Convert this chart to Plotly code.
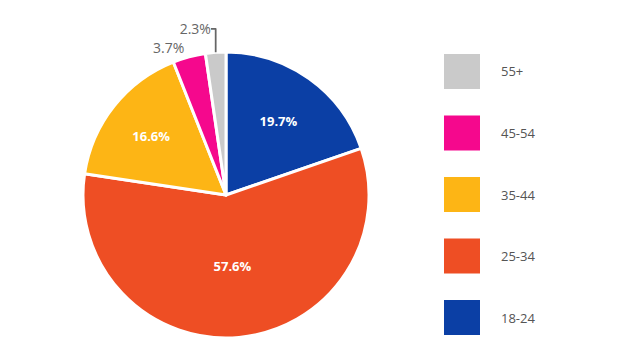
import plotly.graph_objects as go

categories = ["18-24", "25-34", "35-44", "45-54", "55+"]
values = [19.7, 57.6, 16.6, 3.7, 2.3]
colors = ["#0B3FA5", "#EE4E24", "#FDB515", "#F5088D", "#CACACA"]
text_positions = ["inside", "inside", "inside", "outside", "outside"]

fig = go.Figure()
fig.add_trace(go.Pie(
    labels=categories,
    values=values,
    sort=False,
    direction="clockwise",
    rotation=0,
    marker=dict(colors=colors, line=dict(color="white", width=3)),
    texttemplate="%{value:.1f}%",
    textposition=text_positions,
    insidetextorientation="horizontal",
    insidetextfont=dict(color="white", size=13, family="Open Sans", weight="bold"),
    outsidetextfont=dict(color="#666666", size=14, family="Open Sans"),
    hoverinfo="label+value",
    showlegend=False,
    domain=dict(x=[0.1297, 0.5766], y=[0.0611, 0.8556]),
))

# Custom legend (large swatches), reversed order
legend_items = list(zip(categories, colors))[::-1]
y0 = 54
pitch = 61.5
for i, (cat, col) in enumerate(legend_items):
    top = y0 + i * pitch
    fig.add_shape(type="rect", xref="paper", yref="paper",
                  x0=444 / 640, x1=480 / 640,
                  y0=1 - (top + 35) / 360, y1=1 - top / 360,
                  fillcolor=col, line=dict(width=0))
    fig.add_annotation(xref="paper", yref="paper", x=499 / 640,
                       y=1 - (top + 17.5) / 360, text=cat, showarrow=False,
                       xanchor="left", yanchor="middle",
                       font=dict(size=13, color="#555555", family="Open Sans"))

fig.update_layout(
    width=640, height=360,
    margin=dict(l=0, r=0, t=0, b=0),
    paper_bgcolor="white", plot_bgcolor="white",
)
fig.write_html("out.html", config={"displayModeBar": False})

with open("out.html", "r", encoding="utf-8") as f:
    html = f.read()
html = html.replace("<body>", '<body style="margin:0;padding:0;">', 1)
with open("out.html", "w", encoding="utf-8") as f:
    f.write(html)
